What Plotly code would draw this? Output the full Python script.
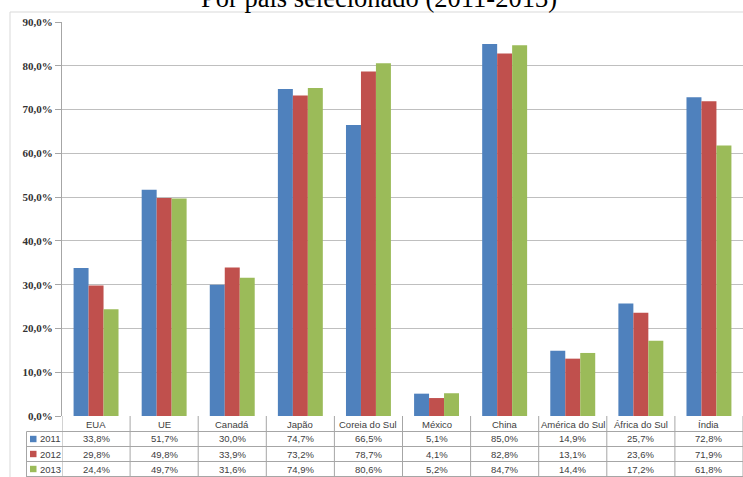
import plotly.graph_objects as go

# Share by selected country, 2011-2013 (percent)
categories = ["EUA", "UE", "Canadá", "Japão", "Coreia do Sul", "México",
              "China", "América do Sul", "África do Sul", "Índia"]
years = ["2011", "2012", "2013"]
v2011 = [33.8, 51.7, 30.0, 74.7, 66.5, 5.1, 85.0, 14.9, 25.7, 72.8]
v2012 = [29.8, 49.8, 33.9, 73.2, 78.7, 4.1, 82.8, 13.1, 23.6, 71.9]
v2013 = [24.4, 49.7, 31.6, 74.9, 80.6, 5.2, 84.7, 14.4, 17.2, 61.8]
series = [v2011, v2012, v2013]
colors = ["#4F81BD", "#C0504D", "#9BBB59"]
title_text = "Por país selecionado (2011-2013)"

W, H = 743, 477
ML, MR, MT, MB = 62, 0, 22, 61
PW, PH = W - ML - MR, H - MT - MB


def py(px_y):
    """Pixel row -> paper y."""
    return (H - MB - px_y) / PH


def px(px_x):
    """Pixel column -> paper x."""
    return (px_x - ML) / PW


def pct(v):
    return f"{v:.1f}%".replace(".", ",")


xs = list(range(len(categories)))
fig = go.Figure()
for name, vals, col in zip(years, series, colors):
    fig.add_trace(go.Bar(x=xs, y=vals, name=name, marker=dict(color=col, line=dict(width=0)),
                         hoverinfo="skip"))

shapes = []
annotations = []
grid_col = "#A6A6A6"
txt_col = "#404040"
table_font = dict(family="Liberation Sans, Arial, sans-serif", size=9.5, color=txt_col)

# outer chart frame
shapes.append(dict(type="line", xref="paper", yref="paper", x0=px(10), x1=px(W + 5),
                   y0=py(12), y1=py(12), line=dict(color="#D9D9D9", width=1)))
shapes.append(dict(type="line", xref="paper", yref="paper", x0=px(10), x1=px(10),
                   y0=py(12), y1=py(H + 5), line=dict(color="#D9D9D9", width=1)))

# data table rows below the axis
row_lines = [431.5, 446.5, 461.5, 476.5]
row_centers = [424, 439, 454, 469]
for yl in row_lines:
    shapes.append(dict(type="line", xref="paper", yref="paper", x0=px(26.5), x1=1,
                       y0=py(yl), y1=py(yl), line=dict(color=grid_col, width=1)))
# column dividers
for i in range(len(categories) + 1):
    shapes.append(dict(type="line", xref="x", yref="paper", x0=i - 0.5, x1=i - 0.5,
                       y0=py(416), y1=py(477), line=dict(color=grid_col, width=1)))
shapes.append(dict(type="line", xref="paper", yref="paper", x0=px(26.5), x1=px(26.5),
                   y0=py(431.5), y1=py(477), line=dict(color=grid_col, width=1)))

# header row: category names
for i, c in enumerate(categories):
    annotations.append(dict(x=i, y=py(row_centers[0]), xref="x", yref="paper", text=c,
                            showarrow=False, font=table_font, xanchor="center", yanchor="middle"))
# value rows with legend keys
for r, (name, vals, col) in enumerate(zip(years, series, colors)):
    yc = row_centers[r + 1]
    shapes.append(dict(type="rect", xref="paper", yref="paper", x0=px(30), x1=px(36.5),
                       y0=py(yc + 3.2), y1=py(yc - 3.2), fillcolor=col, line=dict(width=0)))
    annotations.append(dict(x=px(37.5), y=py(yc), xref="paper", yref="paper", text=name,
                            showarrow=False, font=table_font, xanchor="left", yanchor="middle"))
    for i, v in enumerate(vals):
        annotations.append(dict(x=i, y=py(yc), xref="x", yref="paper", text=pct(v),
                                showarrow=False, font=table_font, xanchor="center", yanchor="middle"))

# title, running off the top edge of the page
annotations.append(dict(x=px(379), y=py(-2.5), xref="paper", yref="paper", text=title_text,
                        showarrow=False, xanchor="center", yanchor="middle",
                        font=dict(family="Liberation Serif, Times New Roman, serif", size=26.5,
                                  color="#000000")))

fig.update_layout(
    width=W, height=H,
    margin=dict(l=ML, r=MR, t=MT, b=MB, pad=0),
    paper_bgcolor="white", plot_bgcolor="white",
    barmode="group", bargap=0.34, bargroupgap=0,
    showlegend=False,
    separators=",.",
    shapes=shapes, annotations=annotations,
    xaxis=dict(range=[-0.5, len(categories) - 0.5], showticklabels=False, showgrid=False,
               zeroline=False, showline=False, ticks=""),
    yaxis=dict(range=[0, 90], dtick=10, tickformat=".1f", ticksuffix="%",
               showgrid=True, gridcolor="#BFBFBF", gridwidth=1,
               zeroline=False, showline=True, linecolor="#A6A6A6", linewidth=1,
               ticks="outside", ticklen=6, tickcolor="#A6A6A6",
               tickfont=dict(family="Liberation Serif, Times New Roman, serif", size=11,
                             color="#333333", weight="bold")),
)

fig.write_html("out.html")
